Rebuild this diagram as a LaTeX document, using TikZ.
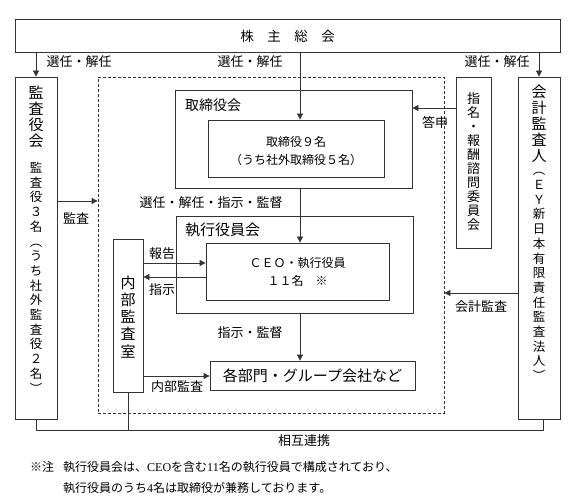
\documentclass[tikz,border=0pt]{standalone}
\usepackage{fontspec}
\setmainfont{Noto Sans CJK JP}
\newfontfamily\latinserif{Liberation Serif}
\usetikzlibrary{arrows.meta}
\definecolor{linec}{HTML}{333333}
\ExplSyntaxOn
\NewDocumentCommand\vstack{m}{
  \seq_clear:N \l_tmpa_seq
  \tl_map_inline:nn {#1} { \seq_put_right:Nn \l_tmpa_seq { \raisebox{0pt}[0.8em][0.2em]{##1} } }
  \seq_use:Nn \l_tmpa_seq { \\ }
}
\ExplSyntaxOff
\newcommand{\fixskip}{\lineskiplimit=-30pt\lineskip=0pt}
\tikzset{
  box/.style={draw=linec, line width=0.8pt, inner sep=0pt},
  dbox/.style={draw=linec, line width=0.8pt, inner sep=0pt, dash pattern=on 3pt off 2pt},
  lbl/.style={inner sep=0pt, font=\fontsize{13}{15}\selectfont},
  arr/.style={draw=linec, line width=0.8pt, -{Triangle[length=6pt,width=6pt]}},
  ln/.style={draw=linec, line width=0.8pt},
  vbig/.style={inner sep=0pt, align=center, font=\fontsize{15}{16}\selectfont\fixskip},
  vsmall/.style={inner sep=0pt, align=center, font=\fontsize{12.5}{14.7}\selectfont\fixskip},
}
\begin{document}
\begin{tikzpicture}[x=1pt,y=-1pt]
\useasboundingbox (0,0) rectangle (576,497);
% boxes
\node[box, minimum width=545pt, minimum height=33pt] (agm) at (287.5,35.5) {};
\node[lbl, font=\fontsize{13.5}{15}\selectfont] (agmt) at (287.5,36) {株　主　総　会};
\node[box, minimum width=42pt, minimum height=342pt] (kansa) at (36,248) {};
\node[vbig] (kansat) at (36,118) {\vstack{監査役会}};
\node[vsmall] (kansas) at (36,279) {\vstack{監査役３名︵うち社外監査役２名︶}};
\node[box, minimum width=42pt, minimum height=342pt] (audit) at (539,248) {};
\node[vbig] (auditt) at (539,125) {\vstack{会計監査人}};
\node[vsmall] (audits) at (539,274) {\vstack{︵ＥＹ新日本有限責任監査法人︶}};
\node[dbox, minimum width=346pt, minimum height=336pt] (dash) at (271,245) {};
\node[box, minimum width=35pt, minimum height=171pt] (nom) at (473.5,162.5) {};
\node[inner sep=0pt, align=center, font=\fontsize{13}{14}\selectfont\fixskip] (nomt) at (473.5,163) {\vstack{指名・報酬諮問委員会}};
\node[box, minimum width=237pt, minimum height=98pt] (board) at (293.5,139) {};
\node[lbl, anchor=west, font=\fontsize{14}{16}\selectfont] (boardt) at (185,105) {取締役会};
\node[box, minimum width=176pt, minimum height=57pt] (dir) at (296,148.5) {};
\node[inner sep=0pt, align=center, font=\fontsize{12}{18}\selectfont\fixskip] (dirt) at (296,151) {取締役９名\\（うち社外取締役５名）};
\node[box, minimum width=237pt, minimum height=97pt] (exec) at (294.5,264.5) {};
\node[lbl, anchor=west, font=\fontsize{15}{16}\selectfont] (exect) at (185,230) {執行役員会};
\node[box, minimum width=183pt, minimum height=57pt] (ceo) at (297.5,271.5) {};
\node[inner sep=0pt, align=center, font=\fontsize{12}{18}\selectfont\fixskip] (ceot) at (297.5,271.5) {ＣＥＯ・執行役員\\１１名　※};
\node[box, minimum width=30pt, minimum height=153pt] (ia) at (128,315.5) {};
\node[inner sep=0pt, align=center, font=\fontsize{15}{17.25}\selectfont\fixskip] (iat) at (128,318) {\vstack{内部監査室}};
\node[box, minimum width=205pt, minimum height=29pt] (dept) at (312.5,375.5) {};
\node[lbl, font=\fontsize{15}{17}\selectfont] (deptt) at (312.5,375.5) {各部門・グループ会社など};
% coordinates
\coordinate (cx) at (300,0);
\coordinate (y108) at (0,108);
\coordinate (y201) at (0,201);
\coordinate (y263) at (0,263);
\coordinate (y277) at (0,277);
\coordinate (y293) at (0,293);
\coordinate (y376) at (0,376);
\coordinate (m1) at (36,430);
\coordinate (m2) at (543,430);
% arrows
\draw[arr] (agm.south -| kansa.north) -- (kansa.north);
\draw[arr] (agm.south -| audit.north) -- (audit.north);
\draw[arr] (agm.south -| cx) -- (dir.north -| cx);
\draw[arr] (nom.west |- y108) -- (board.east |- y108);
\draw[arr] (kansa.east |- y201) -- (dash.west |- y201);
\draw[arr] (audit.west |- y293) -- (dash.east |- y293);
\draw[arr] (board.south -| cx) -- (ceo.north -| cx);
\draw[arr] (ia.east |- y263) -- (ceo.west |- y263);
\draw[arr] (ceo.west |- y277) -- (ia.east |- y277);
\draw[arr] (exec.south -| cx) -- (dept.north -| cx);
\draw[arr] (ia.east |- y376) -- (dept.west |- y376);
\draw[ln] (kansa.south -| m1) -- (m1) -- (m2) -- (audit.south -| m2);
\draw[ln] (ia.south) -- (ia.south |- m1);
% labels
\node[lbl] (l1) at (79,62) {選任・解任};
\node[lbl] (l2) at (250,62) {選任・解任};
\node[lbl] (l3) at (497,62) {選任・解任};
\node[lbl] (l4) at (435,122) {答申};
\node[lbl] (l5) at (76,218) {監査};
\node[lbl] (l6) at (211,203) {選任・解任・指示・監督};
\node[lbl] (l7) at (162,254) {報告};
\node[lbl] (l8) at (162,290) {指示};
\node[lbl] (l9) at (481,307) {会計監査};
\node[lbl] (l10) at (250,333) {指示・監督};
\node[lbl] (l11) at (177,387) {内部監査};
\node[lbl] (l12) at (304,441) {相互連携};
\node[inner sep=0pt, anchor=west, font=\fontsize{12}{14}\selectfont] (n0) at (30,467) {※注};
\node[inner sep=0pt, anchor=west, font=\fontsize{12}{14}\selectfont] (n1) at (63,467) {執行役員会は、{\latinserif CEO}を含む{\latinserif 11}名の執行役員で構成されており、};
\node[inner sep=0pt, anchor=west, font=\fontsize{12}{14}\selectfont] (n2) at (63,488) {執行役員のうち{\latinserif 4}名は取締役が兼務しております。};
\end{tikzpicture}
\end{document}
